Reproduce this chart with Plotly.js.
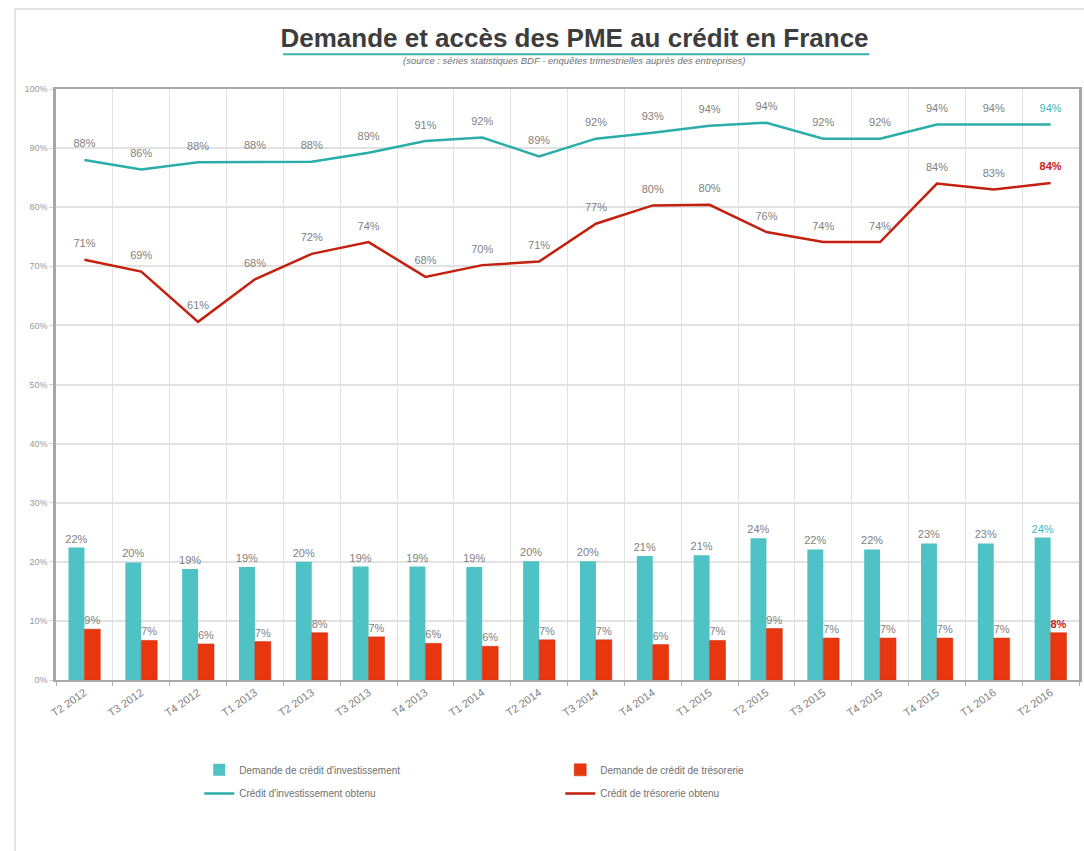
<!DOCTYPE html>
<html>
<head>
<meta charset="utf-8">
<script src="https://cdn.plot.ly/plotly-3.0.1.min.js"></script>
<style>
  html, body { margin: 0; padding: 0; background: #ffffff; }
  #chart { width: 1084px; height: 851px; position: relative; }
  #frame { position: absolute; left: 14px; top: 8px; width: 1080px; height: 850px;
           border-left: 2px solid #e4e4e4; border-top: 2px solid #e4e4e4; pointer-events: none; }
</style>
</head>
<body>
<div id="chart"></div>
<div id="frame"></div>
<script>
// Quarters (the source chart repeats "T4 2015"; a zero-width space keeps the two categories distinct)
const categories = ["T2 2012","T3 2012","T4 2012","T1 2013","T2 2013","T3 2013","T4 2013","T1 2014",
  "T2 2014","T3 2014","T4 2014","T1 2015","T2 2015","T3 2015","T4 2015","T4 2015\u200b","T1 2016","T2 2016"];

// Demande de crédit d'investissement (%)
const demandeInvest = [22.4,19.9,18.8,19.1,20.0,19.2,19.2,19.1,20.1,20.1,21.0,21.1,24.0,22.1,22.1,23.1,23.1,24.1];
// Demande de crédit de trésorerie (%)
const demandeTreso = [8.6,6.7,6.1,6.5,8.0,7.3,6.2,5.7,6.8,6.8,6.0,6.7,8.7,7.1,7.1,7.1,7.1,8.0];
// Crédit d'investissement obtenu (%)
const obtenuInvest = [88,86.4,87.6,87.7,87.7,89.2,91.2,91.8,88.6,91.6,92.6,93.8,94.3,91.6,91.6,94,94,94];
// Crédit de trésorerie obtenu (%)
const obtenuTreso = [71.1,69.1,60.6,67.8,72.1,74.1,68.2,70.2,70.8,77.2,80.3,80.4,75.8,74.1,74.1,84.0,83.0,84.1];

const names = {
  dInv: "Demande de crédit d'investissement",
  dTre: "Demande de crédit de trésorerie",
  oInv: "Crédit d'investissement obtenu",
  oTre: "Crédit de trésorerie obtenu"
};

const GREY = "#7f7f7f";
const TEAL_LBL = "#3db7b7";
const RED_LBL = "#c8201a";

function labels(vals, lastBold) {
  return vals.map((v, i) => {
    const t = Math.round(v) + "%";
    return (lastBold && i === vals.length - 1) ? "<b>" + t + "</b>" : t;
  });
}
function colors(vals, lastColor) {
  return vals.map((v, i) => i === vals.length - 1 ? lastColor : GREY);
}

const traces = [
  {
    type: "bar", x: categories, y: demandeInvest, name: names.dInv, legend: "legend",
    marker: { color: "#4ec2c5" },
    text: labels(demandeInvest, false), textposition: "outside", cliponaxis: false, constraintext: "none",
    textfont: { family: "Liberation Sans, Arial, sans-serif", size: 11, color: colors(demandeInvest, TEAL_LBL) },
    hoverinfo: "x+y+name"
  },
  {
    type: "bar", x: categories, y: demandeTreso, name: names.dTre, legend: "legend",
    marker: { color: "#e8370f", line: { color: "#c92a0c", width: 0.5 } },
    text: labels(demandeTreso, true), textposition: "outside", cliponaxis: false, constraintext: "none",
    textfont: { family: "Liberation Sans, Arial, sans-serif", size: 11, color: colors(demandeTreso, RED_LBL) },
    hoverinfo: "x+y+name"
  },
  {
    type: "scatter", mode: "lines+markers+text", x: categories, y: obtenuInvest, name: names.oInv, legend: "legend2",
    line: { color: "#2baea9", width: 2.5 },
    marker: { size: 14, color: "rgba(0,0,0,0)" },
    text: labels(obtenuInvest, false), textposition: "top center", cliponaxis: false,
    textfont: { family: "Liberation Sans, Arial, sans-serif", size: 11, color: colors(obtenuInvest, TEAL_LBL) }
  },
  {
    type: "scatter", mode: "lines+markers+text", x: categories, y: obtenuTreso, name: names.oTre, legend: "legend2",
    line: { color: "#c4200f", width: 2.5 },
    marker: { size: 14, color: "rgba(0,0,0,0)" },
    text: labels(obtenuTreso, true), textposition: "top center", cliponaxis: false,
    textfont: { family: "Liberation Sans, Arial, sans-serif", size: 11, color: colors(obtenuTreso, RED_LBL) }
  }
];

const legendCommon = {
  orientation: "h", x: 0.14, xanchor: "left", yanchor: "middle",
  entrywidth: 316, traceorder: "normal",
  font: { family: "Liberation Sans, Arial, sans-serif", size: 10, color: "#707070" },
  bgcolor: "rgba(0,0,0,0)", itemwidth: 30
};

const layout = {
  width: 1084, height: 851,
  paper_bgcolor: "#ffffff", plot_bgcolor: "#ffffff",
  margin: { l: 56, r: 5, t: 89, b: 171 },
  font: { family: "Liberation Sans, Arial, sans-serif", color: GREY },
  title: {
    text: "<b>Demande et accès des PME au crédit en France</b>",
    font: { family: "Liberation Sans, Arial, sans-serif", size: 26, color: "#3d3d3d" },
    x: 0.530, xanchor: "center", y: 0.955, yanchor: "middle"
  },
  barmode: "group", bargap: 0.44, bargroupgap: 0,
  showlegend: true,
  legend: Object.assign({}, legendCommon, { y: -0.152 }),
  legend2: Object.assign({}, legendCommon, { y: -0.192 }),
  xaxis: {
    type: "category", tickson: "boundaries", range: [-0.5, 17.5], autorange: false,
    tickangle: -35, tickfont: { size: 11, color: "#808080" },
    showgrid: true, gridcolor: "#e2e2e2", gridwidth: 1,
    ticks: "outside", ticklen: 4, tickcolor: "#b0b0b0",
    showline: true, linecolor: "#a8a8a8", linewidth: 2, mirror: true,
    fixedrange: true
  },
  yaxis: {
    range: [0, 100], dtick: 10, ticksuffix: "%",
    tickfont: { size: 9, color: "#9a9a9a" },
    showgrid: true, gridcolor: "#e2e2e2", gridwidth: 1.5,
    ticks: "outside", ticklen: 4, tickcolor: "#d0d0d0",
    showline: true, linecolor: "#a8a8a8", linewidth: 2.5, mirror: true,
    zeroline: false, fixedrange: true
  },
  shapes: [
    { type: "line", xref: "paper", yref: "paper", x0: 0.222, x1: 0.795, y0: 1.059, y1: 1.059,
      line: { color: "#3aafa9", width: 2 } }
  ],
  annotations: [
    { xref: "paper", yref: "paper", x: 0.507, y: 1.048, xanchor: "center", yanchor: "middle",
      showarrow: false,
      text: "<i>(source : séries statistiques BDF - enquêtes trimestrielles auprès des entreprises)</i>",
      font: { family: "Liberation Sans, Arial, sans-serif", size: 9.5, color: "#707070" } }
  ]
};

Plotly.newPlot("chart", traces, layout, { displayModeBar: false, responsive: false });
</script>
</body>
</html>
